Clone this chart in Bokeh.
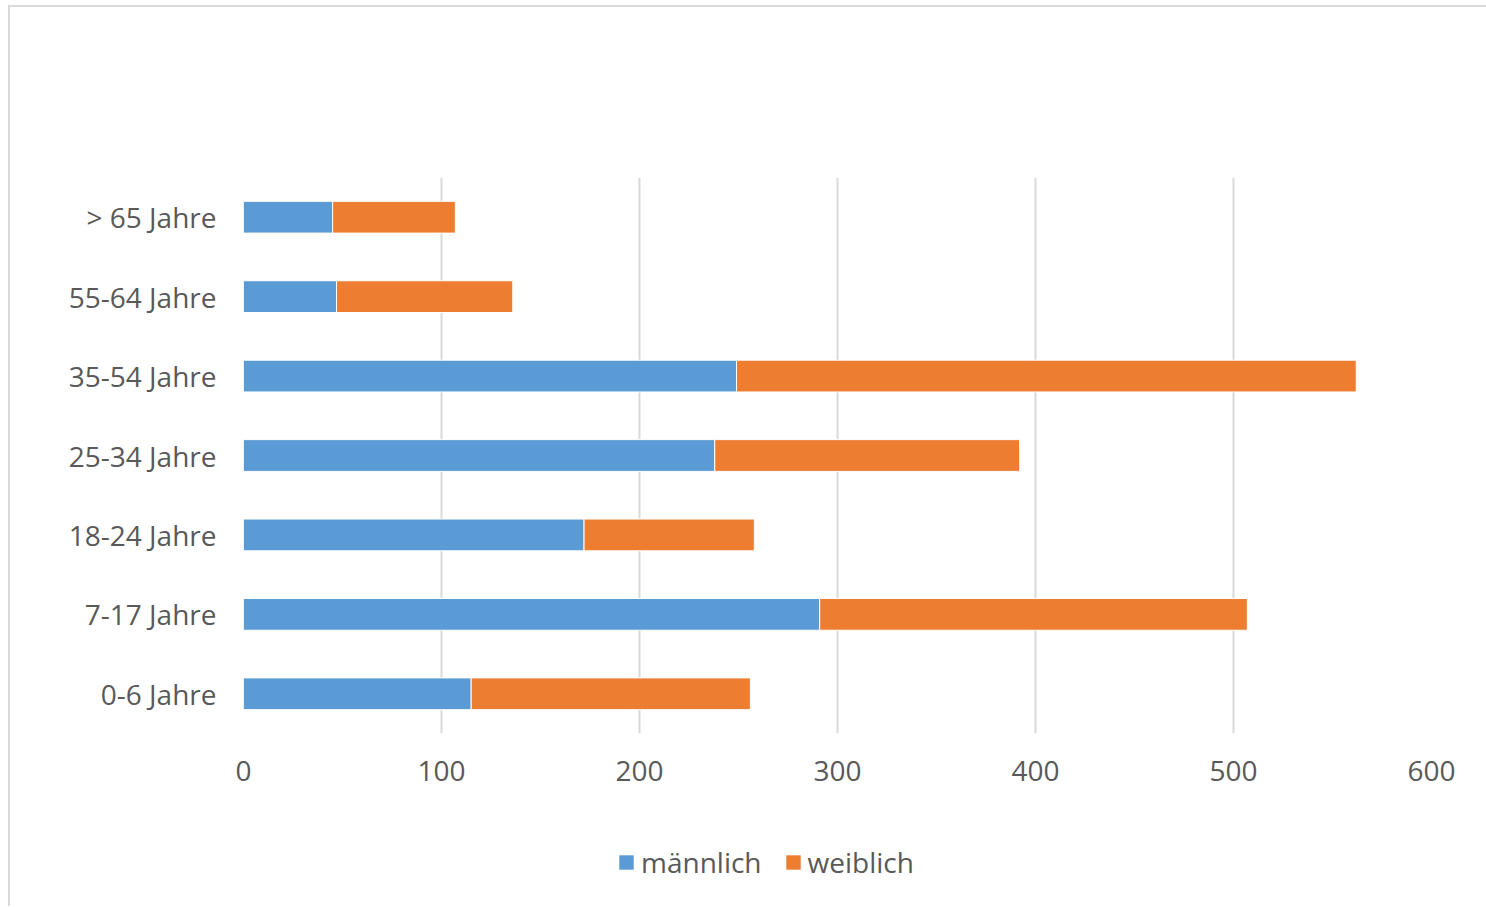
from bokeh.plotting import figure
from bokeh.models import FactorRange, Range1d, Legend, LegendItem, FixedTicker, ColumnDataSource
from bokeh.layouts import column
from bokeh.embed import file_html
from bokeh.resources import INLINE

categories = ["0-6 Jahre", "7-17 Jahre", "18-24 Jahre", "25-34 Jahre", "35-54 Jahre", "55-64 Jahre", "> 65 Jahre"]
maennlich = [115, 291, 172, 238, 249, 47, 45]
weiblich = [141, 216, 86, 154, 313, 89, 62]
series = ["männlich", "weiblich"]
colors = ["#5B9BD5", "#ED7D31"]
x_ticks = [0, 100, 200, 300, 400, 500, 600]

FONT = "Open Sans"
TXT = "#595959"

source = ColumnDataSource(data=dict(cat=categories, **{"männlich": maennlich, "weiblich": weiblich}))

W = 1476
p = figure(width=W, height=806, output_backend="svg", toolbar_location=None,
           y_range=FactorRange(factors=categories), x_range=Range1d(0, 600),
           min_border_left=233, min_border_right=55, min_border_top=170, min_border_bottom=80)

p.hbar_stack(series, y="cat", height=0.4, color=colors, source=source,
             line_color="white", line_width=1)

p.outline_line_color = None
p.ygrid.grid_line_color = None
p.xgrid.grid_line_color = "#d9d9d9"
p.xgrid.grid_line_width = 2
p.xaxis.ticker = FixedTicker(ticks=x_ticks)
for ax in (p.xaxis, p.yaxis):
    ax.axis_line_color = None
    ax.major_tick_line_color = None
    ax.minor_tick_line_color = None
    ax.major_label_text_font = FONT
    ax.major_label_text_font_size = "28px"
    ax.major_label_text_color = TXT
p.yaxis.major_label_standoff = 21
p.xaxis.major_label_standoff = 21

# legend strip below the chart (its bars lie far outside its visible ranges; only the legend shows)
pos = list(range(len(categories)))
leg_source = ColumnDataSource(data=dict(pos=pos, **{"männlich": maennlich, "weiblich": weiblich}))
lf = figure(width=W, height=93, output_backend="svg", toolbar_location=None,
            x_range=Range1d(-2000, -1000), y_range=Range1d(1000, 2000),
            min_border_left=0, min_border_right=0, min_border_top=0, min_border_bottom=0)
lf.axis.visible = False
lf.grid.visible = False
lf.outline_line_color = None
leg_r = lf.hbar_stack(series, y="pos", height=0.4, color=colors, source=leg_source, line_color=None)
legend = Legend(items=[LegendItem(label=s, renderers=[r]) for s, r in zip(series, leg_r)],
                orientation="horizontal", location=(374, 25),
                label_text_font=FONT, label_text_font_size="28px", label_text_color=TXT,
                glyph_width=18, glyph_height=18, label_standoff=6, spacing=22,
                border_line_color=None, background_fill_alpha=0, margin=0, padding=0)
lf.add_layout(legend, "center")

layout = column(p, lf, spacing=0,
                styles={"border-left": "2px solid #d9d9d9", "border-top": "2px solid #d9d9d9",
                        "margin-left": "8px", "margin-top": "5px"})

open("out.html", "w").write(file_html(layout, INLINE))
